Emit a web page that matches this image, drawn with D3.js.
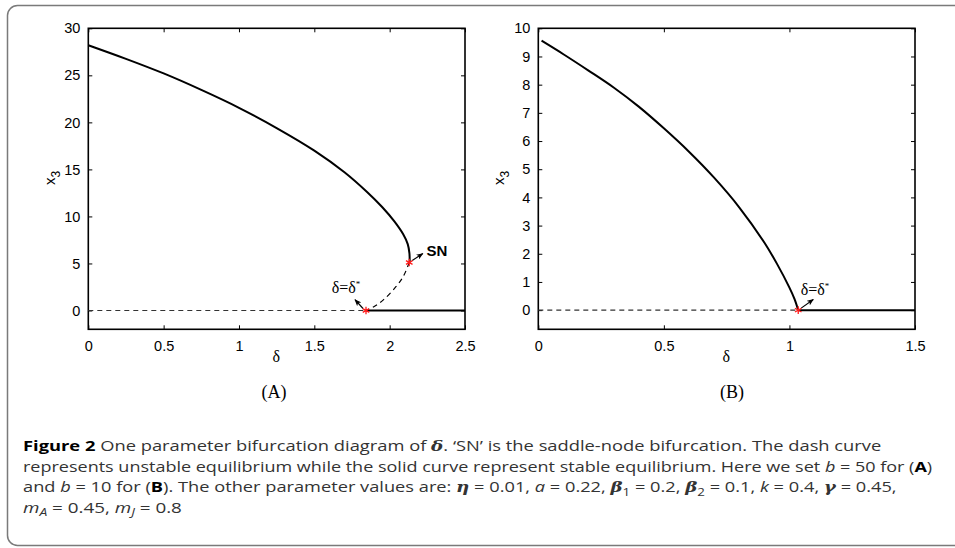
<!DOCTYPE html>
<html>
<head>
<meta charset="utf-8">
<script src="https://cdn.jsdelivr.net/npm/d3@7"></script>
<style>
  body { margin: 0; background: #fff; }
  svg { display: block; }
  .tick text { font-family: "Liberation Sans", Arial, Helvetica, sans-serif; font-size: 14.5px; fill: #000; }
</style>
</head>
<body>
<div id="container"></div>
<script>
/* DATA */
// panel A, b = 50
const stableA = [[0, 28.2], [0.25, 26.75], [0.5, 25.2], [0.75, 23.45], [1.0, 21.55], [1.25, 19.4],
                 [1.5, 17.0], [1.7, 14.7], [1.85, 12.6], [1.95, 11.0], [2.03, 9.5], [2.09, 8.1],
                 [2.12, 7.05], [2.131, 6.1], [2.133, 5.1]];
const unstableA = [[2.13, 5.1], [2.09, 3.6], [2.04, 2.5], [1.96, 1.15], [1.9, 0.45], [1.843, 0]];
const zeroA = [[0, 0], [1.843, 0], [2.5, 0]];   // dashed up to delta*, solid after
const snA = [2.13, 5.1];
const deltaStarA = [1.843, 0];
const xTicksA = [0, 0.5, 1, 1.5, 2, 2.5];
const yTicksA = [0, 5, 10, 15, 20, 25, 30];

// panel B, b = 10
const stableB = [[0.013, 9.56], [0.1, 9.08], [0.2, 8.5], [0.3, 7.9], [0.4, 7.22], [0.5, 6.45],
                 [0.6, 5.62], [0.7, 4.7], [0.8, 3.65], [0.9, 2.4], [0.95, 1.65], [1.0, 0.8],
                 [1.02, 0.4], [1.035, 0]];
const zeroB = [[0, 0], [1.035, 0], [1.5, 0]];
const deltaStarB = [1.035, 0];
const xTicksB = [0, 0.5, 1, 1.5];
const yTicksB = [0, 1, 2, 3, 4, 5, 6, 7, 8, 9, 10];

const width = 955, height = 548;

const svg = d3.select("#container").append("svg")
  .attr("width", width)
  .attr("height", height);

// arrow head
svg.append("defs").append("marker")
  .attr("id", "head")
  .attr("viewBox", "0 0 10 8")
  .attr("refX", 9).attr("refY", 4)
  .attr("markerWidth", 7).attr("markerHeight", 6)
  .attr("markerUnits", "userSpaceOnUse")
  .attr("orient", "auto")
  .append("path")
  .attr("d", "M0,0 L10,4 L0,8 L2.5,4 Z")
  .attr("fill", "#000");

// rounded frame around the figure
svg.append("rect")
  .attr("x", 7.5).attr("y", 5.5)
  .attr("width", 1000).attr("height", 540)
  .attr("rx", 10)
  .attr("fill", "none")
  .attr("stroke", "#7a7a7a")
  .attr("stroke-width", 1.5);

function panel(cfg) {
  const xScale = d3.scaleLinear().domain(cfg.xDomain).range([cfg.left, cfg.right]);
  const yScale = d3.scaleLinear().domain(cfg.yDomain).range([cfg.bottom, cfg.top]);
  const g = svg.append("g");
  const fmt = d => String(d);

  // inward ticks on all four sides
  const tickStyle = sel => {
    sel.attr("font-family", null).attr("font-size", null);
    sel.select(".domain").remove();
    sel.selectAll(".tick line").attr("stroke", "#000").attr("stroke-width", 1);
  };
  g.append("g").attr("transform", `translate(0,${cfg.bottom})`)
    .call(d3.axisBottom(xScale).tickValues(cfg.xTicks).tickFormat(fmt).tickSize(-4).tickPadding(11))
    .call(tickStyle);
  g.append("g").attr("transform", `translate(0,${cfg.top})`)
    .call(d3.axisTop(xScale).tickValues(cfg.xTicks).tickSize(-4).tickFormat(""))
    .call(tickStyle);
  g.append("g").attr("transform", `translate(${cfg.left},0)`)
    .call(d3.axisLeft(yScale).tickValues(cfg.yTicks).tickFormat(fmt).tickSize(-4).tickPadding(8))
    .call(tickStyle);
  g.append("g").attr("transform", `translate(${cfg.right},0)`)
    .call(d3.axisRight(yScale).tickValues(cfg.yTicks).tickSize(-4).tickFormat(""))
    .call(tickStyle);

  g.append("rect")
    .attr("x", cfg.left).attr("y", cfg.top)
    .attr("width", cfg.right - cfg.left).attr("height", cfg.bottom - cfg.top)
    .attr("fill", "none").attr("stroke", "#000").attr("stroke-width", 1.6);

  const line = d3.line().x(d => xScale(d[0])).y(d => yScale(d[1]));
  const smooth = d3.line().x(d => xScale(d[0])).y(d => yScale(d[1]))
    .curve(d3.curveCatmullRom.alpha(0.5));

  // trivial equilibrium: dashed (unstable) then solid (stable)
  g.append("path").attr("d", line(cfg.zero.slice(0, 2)))
    .attr("fill", "none").attr("stroke", "#333").attr("stroke-width", 1.2)
    .attr("stroke-dasharray", "5,4");
  g.append("path").attr("d", line(cfg.zero.slice(1)))
    .attr("fill", "none").attr("stroke", "#000").attr("stroke-width", 2);

  g.append("path").attr("d", smooth(cfg.stable))
    .attr("fill", "none").attr("stroke", "#000").attr("stroke-width", 2);

  if (cfg.unstable) {
    g.append("path").attr("d", smooth(cfg.unstable))
      .attr("fill", "none").attr("stroke", "#000").attr("stroke-width", 1.2)
      .attr("stroke-dasharray", "5,4");
  }

  // annotation arrows
  cfg.arrows.forEach(a => {
    g.append("line")
      .attr("x1", xScale(a.from[0]) + a.off[0]).attr("y1", yScale(a.from[1]) + a.off[1])
      .attr("x2", xScale(a.to[0])).attr("y2", yScale(a.to[1]))
      .attr("stroke", "#000").attr("stroke-width", 1.2)
      .attr("marker-end", "url(#head)");
  });

  // red asterisks at the bifurcation points
  const star = d3.symbol().type(d3.symbolAsterisk || d3.symbolCross).size(40);
  cfg.stars.forEach(p => {
    g.append("path")
      .attr("transform", `translate(${xScale(p[0])},${yScale(p[1])})`)
      .attr("d", star())
      .attr("fill", "none")
      .attr("stroke", "#ff1a1a")
      .attr("stroke-width", 1.3);
  });

  // labels
  cfg.notes.forEach(n => {
    const t = g.append("text")
      .attr("x", xScale(n.at[0])).attr("y", yScale(n.at[1]))
      .attr("font-size", n.size).attr("fill", "#000");
    if (n.kind === "sn") {
      t.attr("font-family", "Liberation Sans, Arial, sans-serif")
        .attr("font-weight", "bold").text("SN");
    } else {
      t.attr("font-family", "Liberation Serif, DejaVu Serif, serif");
      t.append("tspan").text("δ=δ");
      t.append("tspan").attr("dy", -6).attr("font-size", 9).text("*");
    }
  });

  // axis titles
  g.append("text")
    .attr("x", (cfg.left + cfg.right) / 2 - 0.5).attr("y", 362)
    .attr("text-anchor", "middle")
    .attr("font-family", "Liberation Serif, DejaVu Serif, serif")
    .attr("font-size", 16)
    .text("δ");

  const yl = g.append("text")
    .attr("transform", `translate(${cfg.ylabX},178) rotate(-90)`)
    .attr("text-anchor", "middle")
    .attr("font-family", "Liberation Sans, Arial, sans-serif")
    .attr("font-size", 15);
  yl.append("tspan").text("x");
  yl.append("tspan").attr("dy", 5).attr("font-size", 12).text("3");

  g.append("text")
    .attr("x", cfg.panelX).attr("y", 398)
    .attr("text-anchor", "middle")
    .attr("font-family", "Liberation Serif, DejaVu Serif, serif")
    .attr("font-size", 18)
    .text(cfg.name);
}

panel({
  name: "(A)", panelX: 274, ylabX: 55,
  left: 88.3, right: 465, top: 28.3, bottom: 329.3,
  xDomain: [0, 2.5], yDomain: [-2, 30],
  xTicks: xTicksA, yTicks: yTicksA,
  stable: stableA, unstable: unstableA, zero: zeroA,
  stars: [snA, deltaStarA],
  arrows: [
    {from: snA, to: [2.22, 6.05], off: [3, -2]},
    {from: deltaStarA, to: [1.77, 1.15], off: [-3, -2]}
  ],
  notes: [
    {kind: "sn", at: [2.245, 5.8], size: 15},
    {kind: "ds", at: [1.615, 1.9], size: 16}
  ]
});

panel({
  name: "(B)", panelX: 732, ylabX: 504,
  left: 538.3, right: 915, top: 28.3, bottom: 329.3,
  xDomain: [0, 1.5], yDomain: [-0.68, 10],
  xTicks: xTicksB, yTicks: yTicksB,
  stable: stableB, zero: zeroB,
  stars: [deltaStarB],
  arrows: [
    {from: deltaStarB, to: [1.095, 0.38], off: [3, -2]}
  ],
  notes: [
    {kind: "ds", at: [1.045, 0.55], size: 16}
  ]
});

/* CAPTION */
const capFont = "Open Sans, Noto Sans, sans-serif";
const greek = "DejaVu Serif, Liberation Serif, serif";
// each run: [text, style]; style: b bold, i italic, g greek bold italic, s subscript
const captionLines = [
  {end: 882, runs: [["Figure 2", "b"], ["  One parameter bifurcation diagram of ", ""], ["δ", "g"],
    [". ‘SN’ is the saddle-node bifurcation. The dash curve", ""]]},
  {end: 933, runs: [["represents unstable equilibrium while the solid curve represent stable equilibrium. Here we set ", ""],
    ["b", "i"], [" = 50 for (", ""], ["A", "b"], [")", ""]]},
  {end: 897, runs: [["and ", ""], ["b", "i"], [" = 10 for (", ""], ["B", "b"], ["). The other parameter values are: ", ""],
    ["η", "g"], [" = 0.01, ", ""], ["a", "i"], [" = 0.22, ", ""], ["β", "g"], ["1", "s"], [" = 0.2, ", ""],
    ["β", "g"], ["2", "s"], [" = 0.1, ", ""], ["k", "i"], [" = 0.4, ", ""], ["γ", "g"], [" = 0.45,", ""]]},
  {end: 182, runs: [["m", "i"], ["A", "si"], [" = 0.45, ", ""], ["m", "i"], ["J", "si"], [" = 0.8", ""]]}
];

captionLines.forEach((ln, i) => {
  const y = 451 + i * 20.5;
  const g = svg.append("g").attr("transform", `translate(23,${y})`);
  const t = g.append("text")
    .attr("x", 0).attr("y", 0)
    .attr("font-family", capFont)
    .attr("font-size", 15)
    .attr("fill", "#333");
  let shifted = false;
  ln.runs.forEach(([txt, st]) => {
    const sp = t.append("tspan").text(txt);
    if (st.includes("s")) {
      sp.attr("font-size", 11).attr("dy", 3.5);
      shifted = true;
    } else if (shifted) {
      sp.attr("dy", -3.5);
      shifted = false;
    }
    if (st === "b") sp.attr("font-weight", "bold").attr("fill", "#000");
    if (st.includes("i")) sp.attr("font-style", "italic");
    if (st === "g") sp.attr("font-family", greek).attr("font-style", "italic").attr("font-weight", "bold");
  });
  const w = t.node().getComputedTextLength();
  const sx = (ln.end - 23) / w;
  t.attr("transform", `scale(${sx},1)`);
});
</script>
</body>
</html>
